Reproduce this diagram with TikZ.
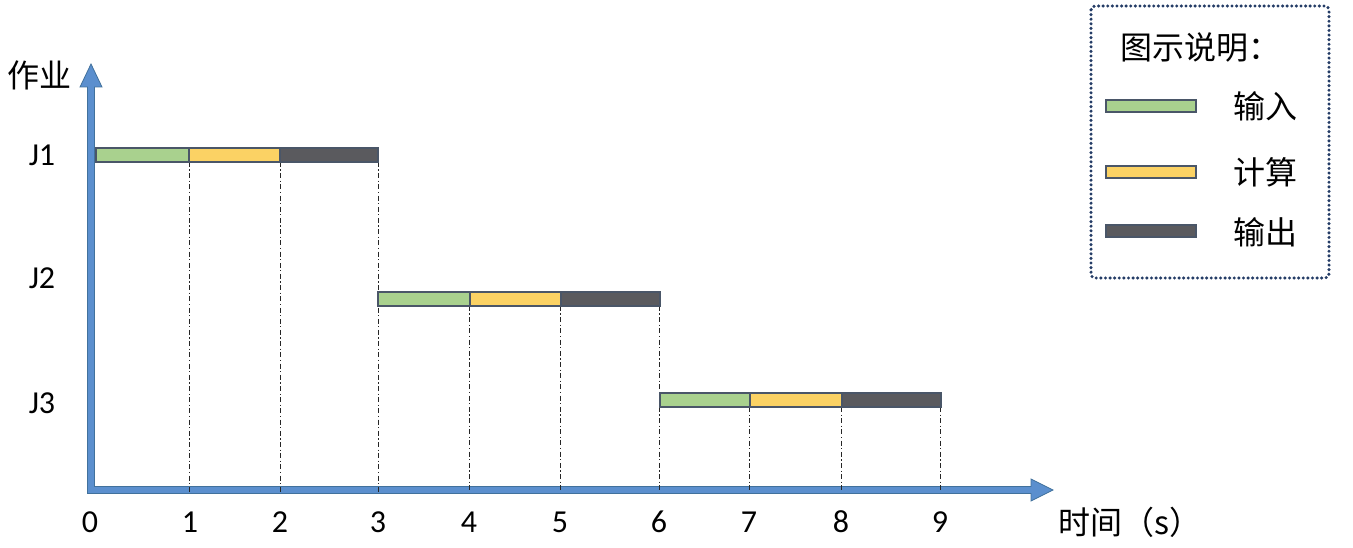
\documentclass[tikz,border=0pt]{standalone}
\usepackage{fontspec}
\setmainfont{Carlito}
\newfontfamily\cjk{Noto Sans CJK SC}
\definecolor{axisblue}{HTML}{5B8FCE}
\definecolor{axisedge}{HTML}{41719C}
\definecolor{ingreen}{HTML}{A9D18E}
\definecolor{calcyellow}{HTML}{FBD264}
\definecolor{outgray}{HTML}{5A5A5E}
\definecolor{baredge}{HTML}{4A5668}
\definecolor{legendedge}{HTML}{243C66}
\tikzset{
  inbar/.style={fill=ingreen,draw=baredge,line width=1.2pt},
  calcbar/.style={fill=calcyellow,draw=baredge,line width=1.2pt},
  outbar/.style={fill=outgray,draw=baredge,line width=1.2pt},
  guide/.style={dash pattern=on 5pt off 2.5pt on 1.2pt off 2.5pt,line width=0.9pt,black!85},
  lbl/.style={font=\fontsize{32}{35}\selectfont,inner sep=0pt},
  clbl/.style={font=\cjk\fontsize{32}{35}\selectfont,inner sep=0pt},
}
\begin{document}
\begin{tikzpicture}[x=1pt,y=-1pt]
\useasboundingbox (0,0) rectangle (1353,548);
% axes
\fill[axisblue,draw=axisedge,line width=0.8pt]
  (87.5,493.5) -- (87.5,87) -- (80,87) -- (91,64) -- (102,87) -- (94.5,87) -- (94.5,486.5)
  -- (1031,486.5) -- (1031,479) -- (1053,490) -- (1031,501) -- (1031,493.5) -- cycle;
% guides
\foreach \x in {189,280} \draw[guide] (\x,162) -- (\x,492);
\draw[guide] (378,162) -- (378,492);
\foreach \x in {469,560,659} \draw[guide] (\x,306) -- (\x,492);
\foreach \x in {749,841,940} \draw[guide] (\x,407) -- (\x,492);
% bars
\draw[inbar] (96,148) rectangle (189,162);
\draw[calcbar] (189,148) rectangle (280,162);
\draw[outbar] (280,148) rectangle (378,162);
\draw[inbar] (378,292) rectangle (470,306);
\draw[calcbar] (470,292) rectangle (561,306);
\draw[outbar] (561,292) rectangle (660,306);
\draw[inbar] (660,393) rectangle (750,407);
\draw[calcbar] (750,393) rectangle (842,407);
\draw[outbar] (842,393) rectangle (941,407);
% labels
\node[clbl] (ylab) at (40,75) {作业};
\node[lbl] (j1) at (42,155) {J1};
\node[lbl] (j2) at (42,278) {J2};
\node[lbl] (j3) at (42,403) {J3};
\foreach \x/\t in {90/0,190/1,280/2,378/3,469/4,560/5,659/6,749/7,841/8,940/9}
  \node[lbl] (t\t) at (\x,522) {\t};
\node[clbl] (xlab) at (1130,522) {时间（s）};
% legend
\draw[legendedge,line width=3.4pt,line cap=round,dash pattern=on 0pt off 4.6pt,rounded corners=4pt] (1091,6) rectangle (1329,278);
\node[clbl] (lt) at (1200,47) {图示说明：};
\draw[inbar] (1106,100) rectangle (1196,112);
\draw[calcbar] (1106,166) rectangle (1196,178);
\draw[outbar] (1106,225) rectangle (1196,237);
\node[clbl] (l1) at (1265,106) {输入};
\node[clbl] (l2) at (1265,172) {计算};
\node[clbl] (l3) at (1265,232) {输出};
\end{tikzpicture}
\end{document}
